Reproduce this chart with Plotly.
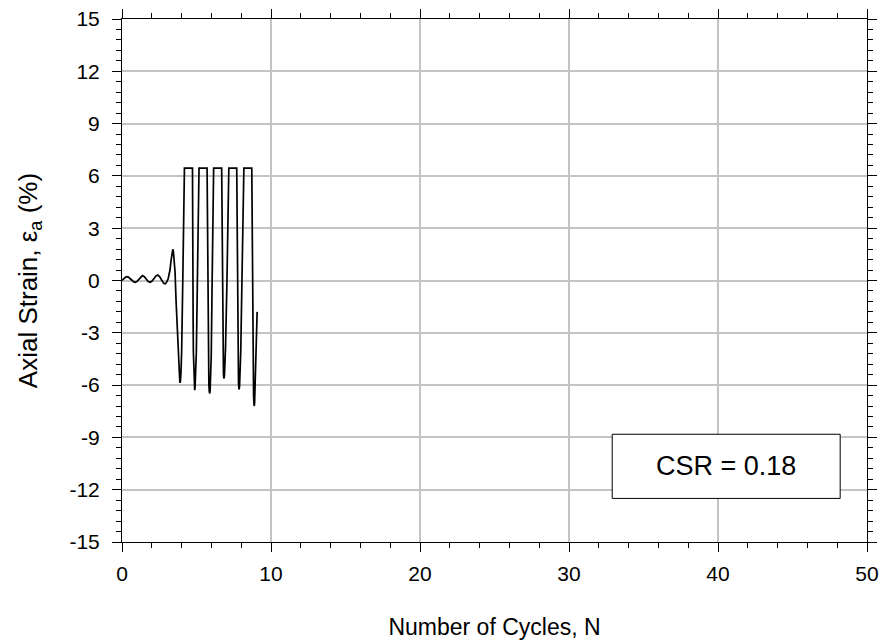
import plotly.graph_objects as go

# Number of cycles (N) and axial strain (%)
cycles = [
    # small initial oscillations
    0.00, 0.12, 0.25, 0.39, 0.52, 0.65, 0.77, 0.88, 1.00, 1.13, 1.25, 1.37, 1.50, 1.63,
    1.76, 1.89, 2.02, 2.15, 2.28, 2.40, 2.52, 2.65, 2.78, 2.89,
    2.98, 3.10, 3.22, 3.30, 3.36, 3.41,
    # valley 1
    3.45, 3.50, 3.56, 3.63, 3.70, 3.76, 3.81, 3.85, 3.88, 3.90, 3.925, 3.955, 4.00, 4.08, 4.14, 4.175, 4.19,
    # valley 2
    4.73, 4.74, 4.755, 4.765, 4.775, 4.79, 4.81, 4.84, 4.86, 4.88, 4.905, 4.94, 4.99, 5.06, 5.12, 5.155, 5.17,
    # valley 3
    5.71, 5.72, 5.735, 5.745, 5.76, 5.775, 5.80, 5.83, 5.86, 5.89, 5.915, 5.945, 5.99, 6.05, 6.105, 6.14, 6.15,
    # valley 4
    6.69, 6.70, 6.715, 6.725, 6.74, 6.755, 6.78, 6.81, 6.83, 6.85, 6.875, 6.905, 6.95, 7.045, 7.11, 7.155, 7.17,
    # valley 5
    7.70, 7.71, 7.725, 7.735, 7.75, 7.765, 7.79, 7.82, 7.845, 7.865, 7.89, 7.925, 7.97, 8.05, 8.11, 8.165, 8.18,
    # valley 6 and end
    8.71, 8.72, 8.735, 8.745, 8.76, 8.775, 8.80, 8.83, 8.855, 8.88, 8.90, 8.925, 8.96, 9.02, 9.07,
]
strain = [
    0.00, 0.10, 0.20, 0.22, 0.15, 0.03, -0.07, -0.10, -0.06, 0.08, 0.20, 0.28, 0.22, 0.07,
    -0.06, -0.10, -0.03, 0.12, 0.26, 0.31, 0.23, 0.04, -0.14, -0.20,
    -0.12, 0.10, 0.60, 1.20, 1.65, 1.79,
    1.65, 1.15, 0.50, -1.20, -2.70, -4.10, -5.00, -5.55, -5.82, -5.87, -5.75, -5.30, -4.20, 0.00, 3.50, 5.60, 6.45,
    6.45, 5.50, 3.00, 0.00, -2.50, -4.10, -5.20, -5.90, -6.20, -6.29, -6.10, -5.40, -4.10, 0.00, 3.50, 5.60, 6.45,
    6.45, 5.50, 3.00, 0.00, -2.50, -4.20, -5.30, -6.00, -6.38, -6.48, -6.30, -5.60, -4.30, 0.00, 3.50, 5.60, 6.45,
    6.45, 5.50, 3.00, 0.00, -2.50, -3.80, -4.80, -5.35, -5.57, -5.62, -5.45, -4.90, -3.80, 0.00, 3.50, 5.60, 6.45,
    6.45, 5.50, 3.00, 0.00, -2.50, -4.10, -5.20, -5.90, -6.18, -6.25, -6.05, -5.40, -4.10, 0.00, 3.50, 5.60, 6.45,
    6.45, 5.50, 3.00, 0.00, -2.50, -4.30, -5.70, -6.60, -7.05, -7.20, -7.00, -6.30, -4.90, -3.20, -1.80,
]

x_ticks = [0, 10, 20, 30, 40, 50]
y_ticks = [-15, -12, -9, -6, -3, 0, 3, 6, 9, 12, 15]
csr_label = "CSR = 0.18"

FONT = "Liberation Sans, Arial, sans-serif"

fig = go.Figure()
fig.add_trace(go.Scatter(
    x=cycles, y=strain, mode="lines",
    line=dict(color="black", width=1.7),
    showlegend=False, hoverinfo="skip",
))

axis_common = dict(
    showline=True, linecolor="black", linewidth=1, mirror="ticks",
    ticks="outside", ticklen=9, tickwidth=1, tickcolor="black",
    showgrid=True, gridcolor="#c4c4c4", gridwidth=1.5, zeroline=False,
    tickfont=dict(family=FONT, size=21, color="black"),
    automargin=False,
)

fig.update_xaxes(
    range=[0, 50], tickvals=x_ticks, ticktext=[str(v) for v in x_ticks],
    minor=dict(dtick=2, ticks="outside", ticklen=5, tickwidth=1, tickcolor="black", showgrid=False),
    title=dict(text="Number of Cycles, N", font=dict(family=FONT, size=23, color="black"), standoff=34),
    ticklabelstandoff=4,
    **axis_common,
)
fig.update_yaxes(
    range=[-15, 15], tickvals=y_ticks, ticktext=[str(v) for v in y_ticks],
    minor=dict(dtick=0.6, tick0=0, ticks="outside", ticklen=5, tickwidth=1, tickcolor="black", showgrid=False),
    title=dict(text="Axial Strain, ε<sub>a</sub> (%)", font=dict(family=FONT, size=26, color="black"), standoff=24),
    ticklabelstandoff=8,
    **axis_common,
)

fig.add_shape(type="rect", xref="x", yref="y", x0=32.9, x1=48.2, y0=-12.5, y1=-8.82,
              line=dict(color="black", width=1), fillcolor="white", layer="above")
fig.add_annotation(x=40.55, y=-10.66, xref="x", yref="y", text=csr_label, showarrow=False,
                   font=dict(family=FONT, size=27, color="black"))

fig.update_layout(
    width=882, height=643,
    margin=dict(l=121.5, r=14.7, t=19.3, b=101.3),
    plot_bgcolor="white", paper_bgcolor="white",
)

fig.write_html("out.html", config={"displayModeBar": False})

# remove the default page margin so the figure sits at the window's origin
with open("out.html", "r", encoding="utf-8") as f:
    html = f.read()
html = html.replace("<head>", "<head><style>html,body{margin:0;padding:0;overflow:hidden;}</style>", 1)
with open("out.html", "w", encoding="utf-8") as f:
    f.write(html)
